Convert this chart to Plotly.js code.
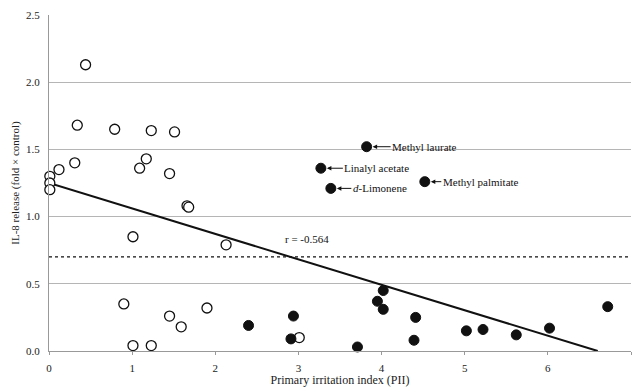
<!DOCTYPE html>
<html>
<head>
<meta charset="utf-8">
<script src="https://cdn.plot.ly/plotly-3.0.1.min.js"></script>
<style>html,body{margin:0;padding:0;background:#fff;}#chart{width:633px;height:387px;}</style>
</head>
<body>
<div id="chart"></div>
<script>
// Open circles (non-irritant group)
var openX = [0.01, 0.01, 0.01, 0.12, 0.31, 0.34, 0.44, 0.79, 1.09, 1.17, 1.23, 1.45, 1.51, 1.66, 1.68, 1.01, 0.90, 1.01, 1.23, 1.45, 1.59, 1.90, 2.13, 3.01];
var openY = [1.30, 1.25, 1.20, 1.35, 1.40, 1.68, 2.13, 1.65, 1.36, 1.43, 1.64, 1.32, 1.63, 1.08, 1.07, 0.85, 0.35, 0.04, 0.04, 0.26, 0.18, 0.32, 0.79, 0.10];
// Filled circles
var fillX = [2.40, 2.91, 2.94, 3.71, 3.95, 4.02, 4.02, 4.41, 4.39, 5.02, 5.22, 5.62, 6.02, 6.72, 3.82, 3.27, 3.39, 4.52];
var fillY = [0.19, 0.09, 0.26, 0.03, 0.37, 0.45, 0.31, 0.25, 0.08, 0.15, 0.16, 0.12, 0.17, 0.33, 1.52, 1.36, 1.21, 1.26];
// Labelled compounds
var labelNames = ["Methyl laurate", "Linalyl acetate", "<i>d</i>-Limonene", "Methyl palmitate"];
var labelX = [3.82, 3.27, 3.39, 4.52];
var labelY = [1.52, 1.36, 1.21, 1.26];
// Regression line
var fitX = [0, 6.6];
var fitY = [1.25, 0];
// Threshold line
var refX = [0, 7];
var refY = [0.7, 0.7];
var rText = "r = -0.564";
var rPos = [3.1, 0.83];
var xTicks = [0, 1, 2, 3, 4, 5, 6, 7];
var yTicks = [0, 0.5, 1, 1.5, 2, 2.5];
var yTickText = ["0.0", "0.5", "1.0", "1.5", "2.0", "2.5"];

var FONT = "Liberation Serif, DejaVu Serif, serif";
var traces = [
  {x: refX, y: refY, mode: "lines", line: {color: "#111", width: 1.3, dash: "3px,3px"}, hoverinfo: "skip", showlegend: false},
  {x: fitX, y: fitY, mode: "lines", line: {color: "#111", width: 2}, showlegend: false, cliponaxis: true},
  {x: openX, y: openY, mode: "markers", marker: {symbol: "circle", size: 10, color: "#fff", line: {color: "#111", width: 1.3}}, showlegend: false, cliponaxis: false},
  {x: fillX, y: fillY, mode: "markers", marker: {symbol: "circle", size: 10, color: "#111", line: {color: "#111", width: 1}}, showlegend: false, cliponaxis: false}
];
var anns = [];
var axOff = [58, 56, 49, 56];
for (var i = 0; i < labelNames.length; i++) {
  anns.push({x: labelX[i], y: labelY[i], xref: "x", yref: "y", text: labelNames[i], showarrow: true,
    ax: axOff[i], ay: 0, arrowhead: 2, arrowsize: 0.9, arrowwidth: 1, arrowcolor: "#111", standoff: 6,
    font: {family: FONT, size: 11, color: "#111"}});
}
anns.push({x: rPos[0], y: rPos[1], xref: "x", yref: "y", text: rText, showarrow: false,
  font: {family: FONT, size: 11, color: "#111"}});

var layout = {
  width: 633, height: 387,
  margin: {l: 49, r: 2, t: 15, b: 36},
  paper_bgcolor: "#fff", plot_bgcolor: "#fff",
  font: {family: FONT, size: 11, color: "#222"},
  xaxis: {range: [0, 7], tickvals: xTicks, showgrid: false, zeroline: false,
    showline: true, linecolor: "#999", linewidth: 1, ticks: "outside", ticklen: 3, tickcolor: "#999",
    ticklabelstandoff: 4, tickfont: {family: FONT, size: 11, color: "#222"},
    title: {text: "Primary irritation index (PII)", font: {family: FONT, size: 12, color: "#222"}, standoff: 8},
    automargin: false},
  yaxis: {range: [0, 2.5], tickvals: yTicks, ticktext: yTickText, showgrid: true, gridcolor: "#b5b5b5", gridwidth: 1,
    zeroline: false, showline: true, linecolor: "#999", linewidth: 1, ticks: "",
    ticklabelstandoff: 6, tickfont: {family: FONT, size: 11, color: "#222"},
    title: {text: "IL-8 release (fold × control)", font: {family: FONT, size: 11, color: "#222"}, standoff: 4},
    automargin: false},
  annotations: anns,
  showlegend: false
};
Plotly.newPlot("chart", traces, layout, {staticPlot: true, displayModeBar: false});
</script>
</body>
</html>
